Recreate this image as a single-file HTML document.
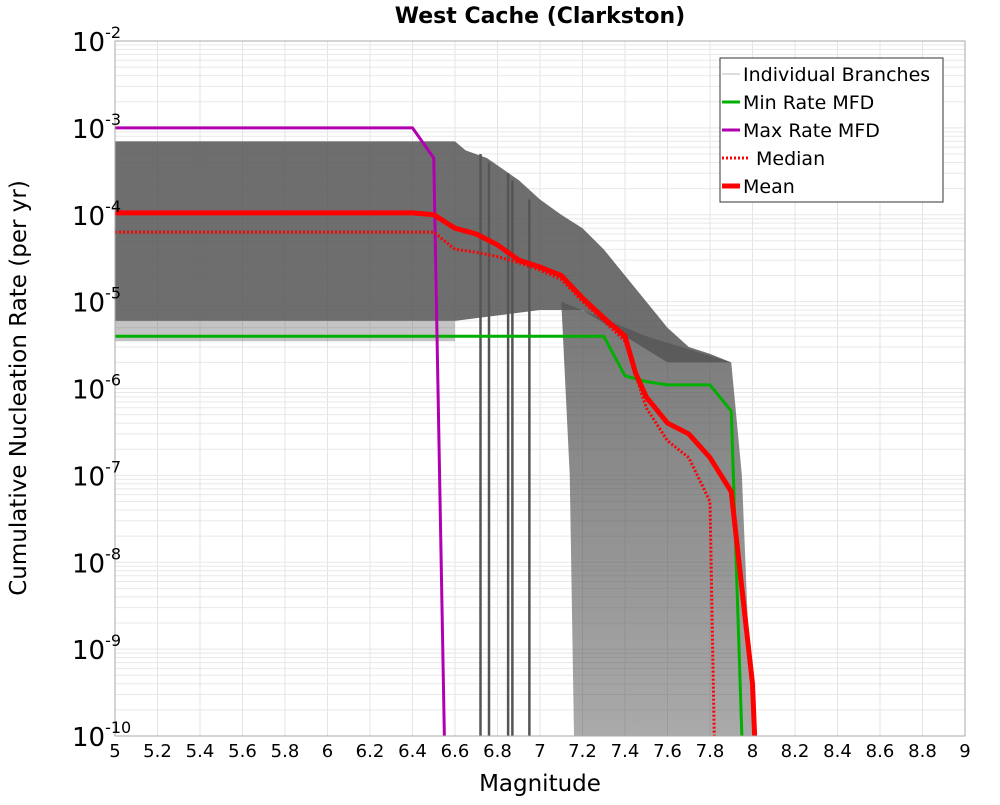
<!DOCTYPE html>
<html><head><meta charset="utf-8"><style>
body{margin:0;background:#fff;}
svg text{font-family:"DejaVu Sans","Liberation Sans",sans-serif;}
</style></head><body>
<svg id="chart" width="1000" height="800" xmlns="http://www.w3.org/2000/svg">
<defs><linearGradient id="tailgrad" x1="0" y1="0" x2="0" y2="1">
<stop offset="0" stop-color="#555" stop-opacity="0.8"/><stop offset="1" stop-color="#555" stop-opacity="0.5"/></linearGradient></defs>
<text x="540" y="23" text-anchor="middle" font-size="22" font-weight="bold">West Cache (Clarkston)</text>
<g id="grid"></g>
<g id="marks"></g>
<rect x="115" y="41" width="850" height="695" fill="none" stroke="#aaa" stroke-width="1"/>
<g id="axes"></g>
<text x="540" y="791" text-anchor="middle" font-size="23">Magnitude</text>
<text transform="translate(26,388) rotate(-90)" text-anchor="middle" font-size="23">Cumulative Nucleation Rate (per yr)</text>
<g>
<rect x="720" y="58" width="223" height="144" fill="#fff" stroke="#333" stroke-width="1"/>
<line x1="722" y1="74" x2="740" y2="74" stroke="#bbb" stroke-width="1"/>
<text x="743" y="81" font-size="19">Individual Branches</text>
<line x1="722" y1="102" x2="740" y2="102" stroke="#00b000" stroke-width="3"/>
<text x="743" y="109" font-size="19">Min Rate MFD</text>
<line x1="722" y1="130" x2="740" y2="130" stroke="#b000b0" stroke-width="3"/>
<text x="743" y="137" font-size="19">Max Rate MFD</text>
<line x1="722" y1="158" x2="750" y2="158" stroke="#f00" stroke-width="3" stroke-dasharray="2,2"/>
<text x="756" y="165" font-size="19">Median</text>
<line x1="722" y1="186" x2="740" y2="186" stroke="#f00" stroke-width="5"/>
<text x="743" y="193" font-size="19">Mean</text>
</g>
</svg>
<script>
const xTicks=[5,5.2,5.4,5.6,5.8,6,6.2,6.4,6.6,6.8,7,7.2,7.4,7.6,7.8,8,8.2,8.4,8.6,8.8,9];
const xTickLabels=["5","5.2","5.4","5.6","5.8","6","6.2","6.4","6.6","6.8","7","7.2","7.4","7.6","7.8","8","8.2","8.4","8.6","8.8","9"];
const yExps=[-2,-3,-4,-5,-6,-7,-8,-9,-10];
const upperMag=[5,6.6,6.65,6.75,6.9,7.0,7.1,7.2,7.3,7.4,7.5,7.6,7.7,7.8,7.9];
const upperRate=[7e-4,7e-4,5.5e-4,4.5e-4,2.5e-4,1.5e-4,1e-4,7e-5,4e-5,2e-5,1e-5,5e-6,3e-6,2.5e-6,2e-6];
const lowerMag=[7.6,7.4,7.2,7.0,6.6,5];
const lowerRate=[2e-6,4e-6,8e-6,8e-6,6e-6,6e-6];
const tailMag=[7.1,7.5,7.9,7.95,8.0,7.16,7.14];
const tailRate=[1e-5,4e-6,2e-6,1e-7,1e-10,1e-10,1e-7];
const dropMags=[6.72,6.76,6.85,6.87,6.95];
const dropTop=[5e-4,4e-4,3e-4,2.5e-4,1.5e-4];
const meanMag=[5,6.4,6.5,6.6,6.7,6.8,6.9,7.0,7.1,7.2,7.3,7.4,7.45,7.5,7.6,7.7,7.8,7.9,7.95,8.0,8.01];
const meanRate=[1.05e-4,1.05e-4,1e-4,7e-5,6e-5,4.5e-5,3e-5,2.5e-5,2e-5,1.1e-5,6.5e-6,4e-6,1.5e-6,8e-7,4e-7,3e-7,1.6e-7,6.5e-8,5e-9,4e-10,1e-10];
const medMag=[5,6.5,6.6,6.7,6.8,6.9,7.0,7.1,7.2,7.3,7.4,7.5,7.6,7.7,7.8,7.82];
const medRate=[6.3e-5,6.3e-5,4e-5,3.7e-5,3.3e-5,2.8e-5,2.3e-5,1.8e-5,1e-5,6e-6,3.5e-6,6e-7,2.5e-7,1.6e-7,5e-8,1e-10];
const minMag=[5,7.3,7.4,7.5,7.6,7.7,7.8,7.9,7.95];
const minRate=[4e-6,4e-6,1.4e-6,1.2e-6,1.1e-6,1.1e-6,1.1e-6,5.5e-7,1e-10];
const maxMag=[5,6.4,6.5,6.55];
const maxRate=[1e-3,1e-3,4.5e-4,1e-10];

const NS="http://www.w3.org/2000/svg";
const X=m=>115+(m-5)*212.5;
const Y=r=>41+(-2-Math.log10(r))*86.875;
function mk(tag,attrs,parent){const e=document.createElementNS(NS,tag);for(const k in attrs)e.setAttribute(k,attrs[k]);parent.appendChild(e);return e;}
const grid=document.getElementById('grid'),marks=document.getElementById('marks'),axes=document.getElementById('axes');
for(let m=5;m<=9.001;m+=0.2){const l=mk('line',{x1:X(m),x2:X(m),y1:41,y2:736,stroke:'#e4e4e4'},grid);
}
for(let e=-10;e<-2;e++){for(let k=1;k<10;k++){const y=Y(k*Math.pow(10,e));const l=mk('line',{x1:115,x2:965,y1:y,y2:y,stroke:'#e8e8e8'},grid);
}}
function pts(ms,rs){return ms.map((m,i)=>X(m)+','+Y(rs[i])).join(' ');}
let p=mk('polygon',{points:pts(tailMag,tailRate),fill:'url(#tailgrad)'},marks);

p=mk('polygon',{points:pts(upperMag,upperRate)+' '+pts(lowerMag,lowerRate),fill:'#555',opacity:0.85},marks);

p=mk('polygon',{points:X(5)+','+Y(6e-6)+' '+X(6.6)+','+Y(6e-6)+' '+X(6.6)+','+Y(3.5e-6)+' '+X(5)+','+Y(3.5e-6),fill:'#555',opacity:0.35},marks);

dropMags.forEach((m,i)=>{const l=mk('line',{x1:X(m),x2:X(m),y1:Y(dropTop[i]),y2:736,stroke:'#555','stroke-width':2.5},marks);
});
function line(ms,rs,col,w,name,dash){const l=mk('polyline',{points:pts(ms,rs),fill:'none',stroke:col,'stroke-width':w,'stroke-linejoin':'round'},marks);
if(dash)l.setAttribute('stroke-dasharray',dash);}
line(minMag,minRate,'#00b000',3,'min-rate-line');
line(maxMag,maxRate,'#b000b0',3,'max-rate-line');
line(medMag,medRate,'#f00',3,'median-line','2,2');
line(meanMag,meanRate,'#f00',5,'mean-line');
xTicks.forEach((m,i)=>{const t=mk('text',{x:X(m),y:757,'text-anchor':'middle','font-size':18},axes);t.textContent=xTickLabels[i];
});
yExps.forEach(e=>{const y=Y(Math.pow(10,e));const t=mk('text',{x:72,y:y+10,'font-size':26},axes);t.textContent='10';

const s=mk('tspan',{dy:-13,'font-size':16},t);s.textContent=String(e);});
</script>
</body></html>
